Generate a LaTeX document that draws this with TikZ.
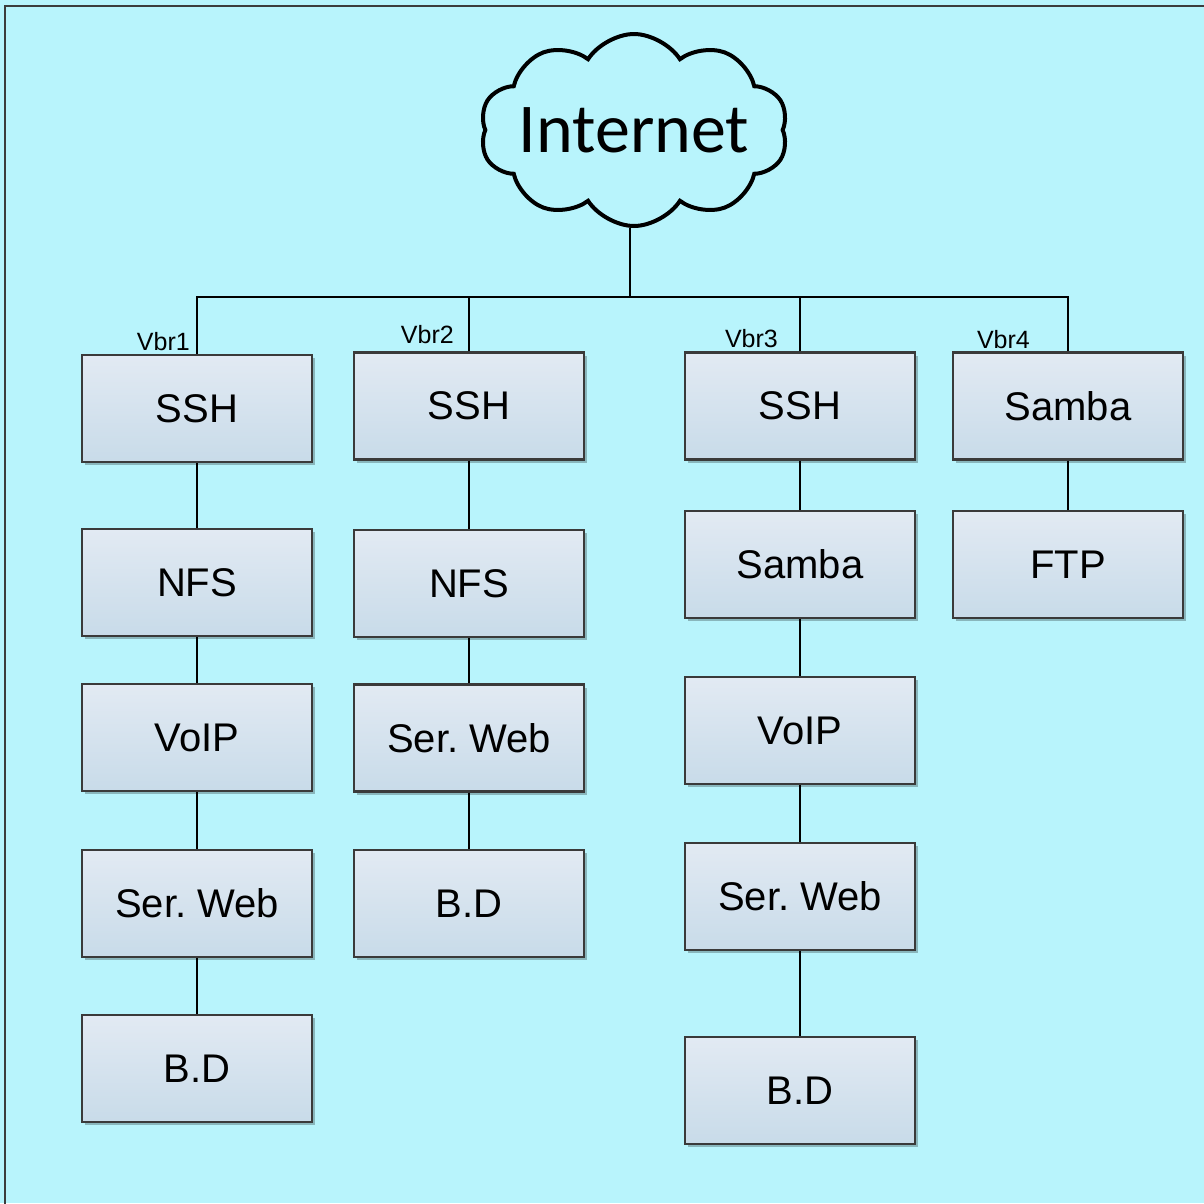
\documentclass[tikz,border=0pt]{standalone}
\usepackage{fontspec}
\setmainfont{Liberation Sans}
\newfontfamily\cloudfont{Carlito}
\usetikzlibrary{shapes.symbols,shadows}
\frenchspacing

\definecolor{canvas}{RGB}{184,244,252}
\definecolor{frameline}{RGB}{60,60,60}
\definecolor{boxtop}{RGB}{226,234,243}
\definecolor{boxbottom}{RGB}{200,219,233}
\definecolor{boxline}{RGB}{58,58,58}

\tikzset{
  svc/.style={draw=boxline, line width=2.4pt, top color=boxtop, bottom color=boxbottom,
    minimum width=230pt, minimum height=107pt, inner sep=0pt,
    font=\fontsize{40}{48}\selectfont,
    drop shadow={shadow xshift=3pt, shadow yshift=-3pt, opacity=0.25, fill=black}},
  wire/.style={draw=black, line width=2pt},
  tag/.style={font=\fontsize{25}{30}\selectfont, inner sep=0pt, anchor=base east},
}

\begin{document}
\begin{tikzpicture}[x=1pt,y=-1pt]
  % canvas and frame
  \fill[canvas] (0,0) rectangle (1204,1203);
  \useasboundingbox (0,0) rectangle (1204,1203);
  \draw[frameline, line width=2.2pt] (5,1210) -- (5,6) -- (1210,6);

  % cloud with its caption in the middle
  \node[cloud, cloud puffs=10, cloud puff arc=115, cloud ignores aspect, draw=black, line width=4pt,
        fill=canvas, minimum width=308pt, minimum height=192pt, inner sep=0pt,
        label={[font=\cloudfont\fontsize{70}{80}\selectfont, inner sep=0pt]center:Internet}]
        (net) at (634,130) {};

  % column 1
  \node[svc] (a1) at (197,408.5) {SSH};
  \node[svc] (a2) at (197,582.5) {NFS};
  \node[svc] (a3) at (197,737.5) {VoIP};
  \node[svc] (a4) at (197,903.5) {Ser. Web};
  \node[svc] (a5) at (197,1068.5) {B.D};

  % column 2
  \node[svc] (b1) at (469,406) {SSH};
  \node[svc] (b2) at (469,583.5) {NFS};
  \node[svc] (b3) at (469,738) {Ser. Web};
  \node[svc] (b4) at (469,903.5) {B.D};

  % column 3
  \node[svc] (c1) at (800,406) {SSH};
  \node[svc] (c2) at (800,564.5) {Samba};
  \node[svc] (c3) at (800,730.5) {VoIP};
  \node[svc] (c4) at (800,896.5) {Ser. Web};
  \node[svc] (c5) at (800,1090.5) {B.D};

  % column 4
  \node[svc] (d1) at (1068,406) {Samba};
  \node[svc] (d2) at (1068,564.5) {FTP};

  % bridge names
  \node[tag] (t1) at (190,350) {Vbr1};
  \node[tag] (t2) at (454,343) {Vbr2};
  \node[tag] (t3) at (778,347) {Vbr3};
  \node[tag] (t4) at (1030,348) {Vbr4};

  % uplink bus
  \coordinate (bus) at (630,297);
  \draw[wire] ([xshift=-4pt]net.south) -- (bus);
  \draw[wire] (a1.north) |- (bus) -| (d1.north);
  \draw[wire] (b1.north) -- (b1.north |- bus);
  \draw[wire] (c1.north) -- (c1.north |- bus);

  % service chains
  \draw[wire] (a1) -- (a2);
  \draw[wire] (a2) -- (a3);
  \draw[wire] (a3) -- (a4);
  \draw[wire] (a4) -- (a5);
  \draw[wire] (b1) -- (b2);
  \draw[wire] (b2) -- (b3);
  \draw[wire] (b3) -- (b4);
  \draw[wire] (c1) -- (c2);
  \draw[wire] (c2) -- (c3);
  \draw[wire] (c3) -- (c4);
  \draw[wire] (c4) -- (c5);
  \draw[wire] (d1) -- (d2);
\end{tikzpicture}
\end{document}
